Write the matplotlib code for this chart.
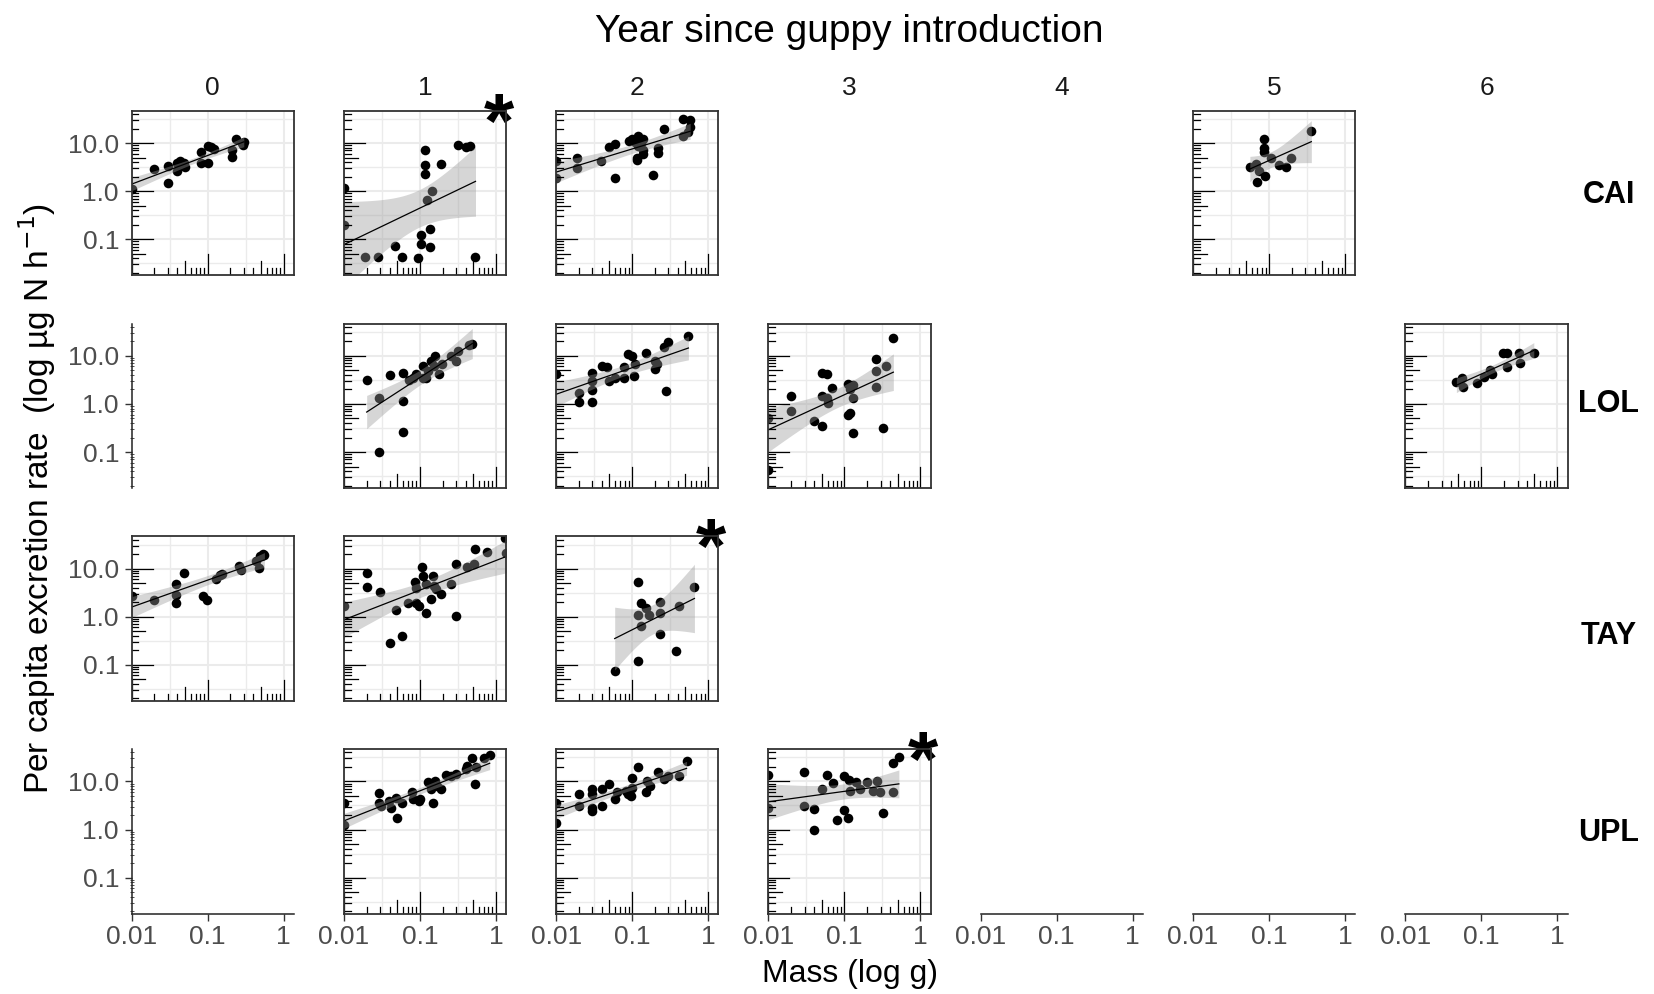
import numpy as np
import matplotlib.pyplot as plt
from matplotlib.ticker import NullLocator, FixedLocator
from matplotlib.transforms import blended_transform_factory

plt.rcParams['font.family'] = ['Liberation Sans', 'DejaVu Sans']

years = ['0', '1', '2', '3', '4', '5', '6']
streams = ['CAI', 'LOL', 'TAY', 'UPL']

# mass (g) and per capita N excretion (ug N / h), one pair of lists per stream x year
cai_0_mass = [0.01, 0.02, 0.030, 0.030, 0.040, 0.040, 0.044, 0.049, 0.050, 0.043, 0.081,
              0.081, 0.10, 0.11, 0.12, 0.10, 0.21, 0.21, 0.24, 0.29, 0.30, 0.28]
cai_0_rate = [1.1, 2.9, 3.4, 1.5, 3.8, 2.6, 3.3, 3.9, 3.1, 4.2, 6.5,
              3.8, 8.7, 8.1, 7.6, 3.8, 7.2, 5.2, 12.3, 9.1, 10.5, 10.0]

cai_1_mass = [0.01, 0.01, 0.019, 0.028, 0.047, 0.058, 0.095, 0.105, 0.105, 0.135, 0.135,
              0.117, 0.117, 0.117, 0.126, 0.145, 0.19, 0.32, 0.41, 0.46, 0.54]
cai_1_rate = [1.17, 0.2, 0.043, 0.043, 0.074, 0.043, 0.040, 0.12, 0.081, 0.16, 0.069,
              7.2, 3.5, 2.3, 0.66, 1.0, 3.6, 9.1, 8.3, 8.5, 0.043]

cai_2_mass = [0.01, 0.01, 0.019, 0.019, 0.039, 0.049, 0.060, 0.060, 0.091, 0.10, 0.12,
              0.14, 0.115, 0.115, 0.12, 0.13, 0.14, 0.14, 0.11, 0.19, 0.22, 0.22,
              0.26, 0.47, 0.47, 0.58, 0.58, 0.55]
cai_2_rate = [4.2, 1.9, 4.9, 3.0, 4.2, 8.3, 9.5, 1.9, 10.8, 12.0, 13.8,
              12.0, 4.9, 4.4, 8.5, 10.0, 7.2, 5.8, 10.5, 2.2, 6.2, 7.9,
              20.0, 13.8, 32.0, 30.0, 22.0, 17.0]

cai_5_mass = [0.056, 0.068, 0.073, 0.069, 0.087, 0.087, 0.087, 0.089, 0.107, 0.137, 0.165,
              0.195, 0.36]
cai_5_rate = [3.2, 3.7, 2.6, 1.55, 12.3, 7.8, 6.5, 2.1, 4.9, 3.5, 3.2,
              4.9, 18.0]

lol_1_mass = [0.020, 0.029, 0.029, 0.040, 0.060, 0.060, 0.060, 0.073, 0.081, 0.089, 0.11,
              0.11, 0.12, 0.13, 0.14, 0.16, 0.155, 0.18, 0.195, 0.26, 0.30, 0.32, 0.44, 0.49]
lol_1_rate = [3.1, 1.3, 0.10, 3.9, 4.3, 1.17, 0.26, 3.1, 3.5, 4.2, 6.2,
              3.5, 3.4, 4.9, 7.9, 10.0, 6.2, 4.2, 6.8, 10.0, 7.9, 12.6, 16.6, 18.0]

lol_2_mass = [0.01, 0.020, 0.020, 0.030, 0.030, 0.030, 0.030, 0.040, 0.047, 0.050, 0.060,
              0.078, 0.079, 0.089, 0.10, 0.105, 0.11, 0.15, 0.20, 0.20, 0.21, 0.28,
              0.26, 0.30, 0.55]
lol_2_rate = [4.2, 1.7, 1.1, 4.3, 3.0, 1.95, 1.1, 6.2, 5.8, 3.0, 3.5,
              5.8, 3.5, 10.8, 10.0, 3.8, 6.8, 11.2, 7.9, 5.2, 6.8, 1.9,
              15.0, 19.0, 26.0]

lol_3_mass = [0.01, 0.01, 0.020, 0.020, 0.040, 0.050, 0.059, 0.050, 0.050, 0.059, 0.061,
              0.069, 0.11, 0.12, 0.13, 0.11, 0.12, 0.13, 0.13, 0.26, 0.26, 0.26,
              0.32, 0.35, 0.44]
lol_3_rate = [0.52, 0.042, 1.45, 0.71, 0.45, 4.5, 4.2, 1.45, 0.34, 1.35, 1.05,
              2.1, 2.6, 2.0, 2.5, 0.60, 0.65, 0.25, 1.35, 8.5, 4.9, 2.3,
              0.32, 6.2, 23.0]

lol_6_mass = [0.047, 0.055, 0.057, 0.089, 0.11, 0.13, 0.14, 0.19, 0.22, 0.22, 0.31,
              0.32, 0.49]
lol_6_rate = [2.9, 3.5, 2.3, 2.7, 3.7, 5.1, 4.2, 11.7, 11.2, 5.8, 11.2,
              7.1, 11.7]

tay_0_mass = [0.01, 0.020, 0.039, 0.039, 0.039, 0.049, 0.087, 0.098, 0.13, 0.145, 0.155,
              0.26, 0.275, 0.44, 0.47, 0.49, 0.54, 0.56]
tay_0_rate = [2.7, 2.2, 4.9, 2.8, 1.95, 8.3, 2.75, 2.2, 6.2, 7.2, 7.9,
              11.5, 9.3, 14.5, 10.5, 18.6, 20.0, 19.5]

tay_1_mass = [0.01, 0.020, 0.020, 0.030, 0.040, 0.049, 0.059, 0.069, 0.089, 0.098, 0.087,
              0.089, 0.11, 0.107, 0.12, 0.15, 0.155, 0.165, 0.19, 0.12, 0.14, 0.26,
              0.30, 0.30, 0.42, 0.52, 0.54, 0.76, 1.32, 1.38]
tay_1_rate = [1.66, 8.3, 4.2, 3.3, 0.29, 1.35, 0.40, 1.95, 1.95, 1.7, 5.2,
              4.0, 7.1, 11.0, 4.7, 7.1, 4.4, 3.8, 2.9, 1.2, 2.3, 4.7,
              12.3, 1.05, 11.0, 12.6, 26.0, 22.0, 43.0, 21.0]

tay_2_mass = [0.059, 0.12, 0.12, 0.12, 0.13, 0.15, 0.13, 0.165, 0.23, 0.23, 0.23,
              0.38, 0.42, 0.66]
tay_2_rate = [0.074, 5.2, 1.1, 0.12, 1.9, 1.5, 0.63, 1.1, 2.0, 1.2, 0.44,
              0.195, 1.7, 4.2]

upl_1_mass = [0.01, 0.01, 0.029, 0.029, 0.031, 0.039, 0.042, 0.049, 0.050, 0.058, 0.078,
              0.082, 0.098, 0.10, 0.13, 0.14, 0.15, 0.16, 0.17, 0.19, 0.22, 0.26,
              0.30, 0.40, 0.42, 0.49, 0.55, 0.54, 0.70, 0.83]
upl_1_rate = [3.6, 1.26, 5.8, 3.6, 3.1, 3.9, 2.8, 4.6, 1.7, 3.6, 5.9,
              4.3, 3.9, 4.4, 9.5, 6.9, 3.6, 10.3, 8.1, 6.9, 13.5, 13.2,
              14.0, 18.0, 21.0, 30.0, 19.5, 8.7, 30.0, 35.0]

upl_2_mass = [0.01, 0.01, 0.020, 0.020, 0.030, 0.030, 0.030, 0.030, 0.040, 0.040, 0.050,
              0.060, 0.063, 0.082, 0.089, 0.098, 0.10, 0.10, 0.12, 0.15, 0.155, 0.17,
              0.22, 0.26, 0.30, 0.42, 0.52]
upl_2_rate = [3.6, 1.38, 5.4, 3.1, 6.9, 5.4, 2.8, 2.4, 7.1, 3.1, 8.7,
              4.3, 6.0, 6.3, 5.4, 5.0, 12.0, 7.4, 19.5, 6.0, 10.3, 8.1,
              16.0, 11.5, 13.2, 13.2, 27.0]

upl_3_mass = [0.01, 0.01, 0.029, 0.029, 0.040, 0.040, 0.050, 0.059, 0.070, 0.079, 0.098,
              0.115, 0.098, 0.11, 0.12, 0.14, 0.16, 0.20, 0.24, 0.27, 0.29, 0.32,
              0.43, 0.44, 0.52]
upl_3_rate = [13.8, 2.8, 16.0, 3.1, 2.7, 1.0, 7.1, 13.5, 9.1, 1.55, 13.2,
              10.7, 2.6, 1.7, 6.3, 9.5, 6.9, 9.8, 6.3, 10.3, 5.9, 2.2,
              5.9, 24.0, 32.0]

panel_data = {
    (0, 0): (cai_0_mass, cai_0_rate),
    (0, 1): (cai_1_mass, cai_1_rate),
    (0, 2): (cai_2_mass, cai_2_rate),
    (0, 5): (cai_5_mass, cai_5_rate),
    (1, 1): (lol_1_mass, lol_1_rate),
    (1, 2): (lol_2_mass, lol_2_rate),
    (1, 3): (lol_3_mass, lol_3_rate),
    (1, 6): (lol_6_mass, lol_6_rate),
    (2, 0): (tay_0_mass, tay_0_rate),
    (2, 1): (tay_1_mass, tay_1_rate),
    (2, 2): (tay_2_mass, tay_2_rate),
    (3, 1): (upl_1_mass, upl_1_rate),
    (3, 2): (upl_2_mass, upl_2_rate),
    (3, 3): (upl_3_mass, upl_3_rate),
}
# non-significant slopes
starred = [(0, 1), (2, 2), (3, 3)]
# axis-only panels: (row, col) -> (show x axis, show y axis)
empty_axes = {(1, 0): (False, True), (3, 0): (True, True),
              (3, 4): (True, False), (3, 5): (True, False), (3, 6): (True, False)}

W, H = 1654, 994
XLIM = (10 ** -2.0, 10 ** 0.135)
YLIM = (10 ** -1.75, 10 ** 1.67)
xticks = [0.01, 0.1, 1]
xlabels = ['0.01', '0.1', '1']
yticks = [0.1, 1, 10]
ylabels = ['0.1', '1.0', '10.0']


def rect(r, c):
    left = (131.5 + c * 212.3) / W
    bottom = 1 - (110.8 + r * 212.8 + 164.5) / H
    return [left, bottom, 162.3 / W, 164.5 / H]


def t975(df):
    z = 1.959964
    return (z + (z**3 + z) / (4 * df) + (5 * z**5 + 16 * z**3 + 3 * z) / (96 * df**2)
            + (3 * z**7 + 19 * z**5 + 17 * z**3 - 15 * z) / (384 * df**3))


def lm_band(mass, rate):
    # straight-line fit in log-log space with 95% confidence band
    x = np.log10(mass)
    y = np.log10(rate)
    n = len(x)
    b, a = np.polyfit(x, y, 1)
    s = np.sqrt(np.sum((y - a - b * x) ** 2) / (n - 2))
    xs = np.linspace(x.min(), x.max(), 80)
    se = s * np.sqrt(1 / n + (xs - x.mean()) ** 2 / np.sum((x - x.mean()) ** 2))
    yh = a + b * xs
    t = t975(n - 2)
    return 10 ** xs, 10 ** yh, 10 ** (yh - t * se), 10 ** (yh + t * se)


def base_axes(ax, show_x, show_y):
    ax.set_xscale('log')
    ax.set_yscale('log')
    ax.set_xlim(XLIM)
    ax.set_ylim(YLIM)
    ax.xaxis.set_major_locator(FixedLocator(xticks))
    ax.yaxis.set_major_locator(FixedLocator(yticks))
    ax.xaxis.set_minor_locator(NullLocator())
    ax.yaxis.set_minor_locator(NullLocator())
    ax.set_xticklabels(xlabels)
    ax.set_yticklabels(ylabels)
    ax.tick_params(axis='x', length=5 if show_x else 0, width=1.0, color='#333333',
                   labelbottom=show_x, labelsize=19, labelcolor='#4D4D4D', pad=3)
    ax.tick_params(axis='y', length=5 if show_y else 0, width=1.0, color='#333333',
                   labelleft=show_y, labelsize=19, labelcolor='#4D4D4D', pad=4)


def log_ticks(ax):
    tb = blended_transform_factory(ax.transData, ax.transAxes)
    tl = blended_transform_factory(ax.transAxes, ax.transData)
    for k in range(-3, 3):
        for m in range(1, 10):
            v = m * 10.0 ** k
            L = 0.13 if m == 1 else (0.085 if m == 5 else 0.043)
            if XLIM[0] <= v <= XLIM[1]:
                ax.plot([v, v], [0, L], transform=tb, color='black', lw=0.9, zorder=5)
            if YLIM[0] <= v <= YLIM[1]:
                ax.plot([0, L], [v, v], transform=tl, color='black', lw=0.9, zorder=5)


fig = plt.figure(figsize=(W / 100, H / 100), dpi=100)

for (r, c), (mass, rate) in panel_data.items():
    ax = fig.add_axes(rect(r, c))
    base_axes(ax, show_x=(r == 3), show_y=(c == 0))
    for v in [10 ** -1.5, 10 ** -0.5]:
        ax.axvline(v, color='#EBEBEB', lw=1.0, zorder=0)
    for v in [0.01, 0.1, 1]:
        ax.axvline(v, color='#EBEBEB', lw=1.5, zorder=0)
    for v in [10 ** -1.5, 10 ** -0.5, 10 ** 0.5, 10 ** 1.5]:
        ax.axhline(v, color='#EBEBEB', lw=1.0, zorder=0)
    for v in [0.1, 1, 10]:
        ax.axhline(v, color='#EBEBEB', lw=1.5, zorder=0)

    ax.scatter(mass, rate, s=48, color='black', linewidths=0, zorder=2)
    xs, yh, lo, hi = lm_band(mass, rate)
    ax.fill_between(xs, lo, hi, color='#999999', alpha=0.4, linewidth=0, zorder=3)
    ax.plot(xs, yh, color='black', lw=0.9, zorder=4)
    log_ticks(ax)

    for sp in ax.spines.values():
        sp.set_color('#333333')
        sp.set_linewidth(1.3)
        sp.set_zorder(6)

    if (r, c) in starred:
        ax.text(0.955, 0.90, '*', transform=ax.transAxes, fontsize=56, fontweight='bold',
                ha='center', va='center', clip_on=False)

for (r, c), (show_x, show_y) in empty_axes.items():
    ax = fig.add_axes(rect(r, c))
    base_axes(ax, show_x, show_y)
    ax.patch.set_visible(False)
    for name, sp in ax.spines.items():
        sp.set_color('#222222')
        sp.set_linewidth(1.1)
        sp.set_visible((name == 'left' and show_y) or (name == 'bottom' and show_x))
    if show_y:
        ax.yaxis.set_minor_locator(FixedLocator([m * 10.0 ** k for k in range(-2, 2)
                                                 for m in range(2, 10)]))
        ax.tick_params(axis='y', which='minor', length=2.5, width=0.6,
                       direction='inout', color='#333333')

# column strips (years) and row strips (streams)
for c, yr in enumerate(years):
    x0, _, w, _ = rect(0, c)
    fig.text(x0 + w / 2, 1 - 88 / H, yr, fontsize=19, color='#1A1A1A',
             ha='center', va='center')

row_label_y = [195, 404, 636, 833]
for name, yy in zip(streams, row_label_y):
    fig.text(1609 / W, 1 - yy / H, name, fontsize=22, fontweight='bold',
             ha='center', va='center')

fig.text(849 / W, 1 - 32.5 / H, 'Year since guppy introduction', fontsize=28,
         ha='center', va='center')
fig.text(850 / W, 1 - 974 / H, 'Mass (log g)', fontsize=23, ha='center', va='center')
fig.text(37 / W, 1 - 498 / H, 'Per capita excretion rate  (log µg N h$^{-1}$)',
         fontsize=24, rotation=90, ha='center', va='center')

fig.savefig('out.png', dpi=100)
